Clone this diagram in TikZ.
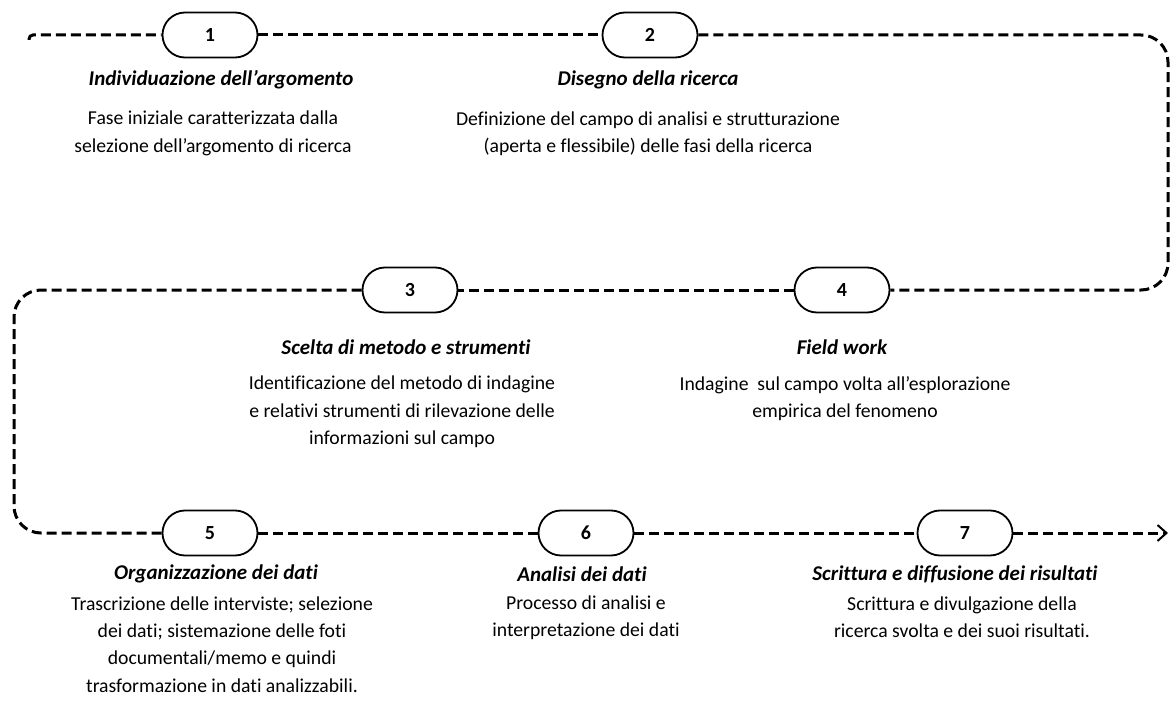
\documentclass[tikz,border=0pt]{standalone}
\usepackage{fontspec}
\setmainfont{Carlito}[Ligatures=NoCommon]
\usetikzlibrary{arrows.meta}

\tikzset{
  stadium/.style={draw, line width=1.8pt, fill=white, rounded corners=22.5pt,
    minimum width=95pt, minimum height=45pt, inner sep=0pt,
    font=\bfseries\fontsize{20}{20}\selectfont},
  flow/.style={line width=3pt, dash pattern=on 10pt off 5pt},
  stagetitle/.style={inner sep=0pt, font=\bfseries\itshape\fontsize{21}{24}\selectfont},
  stagetext/.style={inner sep=0pt, align=center, font=\fontsize{19.7}{27.3}\selectfont},
}

\begin{document}
\begin{tikzpicture}[x=1pt, y=-1pt]
\useasboundingbox (0,0) rectangle (1171,706);

% path corners and ends
\coordinate (start) at (29,40);
\coordinate (ne) at (1168,35);
\coordinate (e2) at (1168,290);
\coordinate (w2) at (14,290);
\coordinate (sw) at (14,533);
\coordinate (end) at (1168,533);

% stage markers
\node[stadium] (n1) at (210,35) {1};
\node[stadium] (n2) at (650,35) {2};
\node[stadium] (n3) at (410,290) {3};
\node[stadium] (n4) at (842,290) {4};
\node[stadium] (n5) at (210,533) {5};
\node[stadium] (n6) at (586,533) {6};
\node[stadium] (n7) at (965,533) {7};

% dashed route
\draw[flow, rounded corners=4pt] (start) |- (n1.west);
\draw[flow] (n1.east) -- (n2.west);
\draw[flow, rounded corners=27pt] (n2.east) -- (ne) -- (e2) -- (n4.east);
\draw[flow] (n4.west) -- (n3.east);
\draw[flow, rounded corners=27pt] (n3.west) -- (w2) -- (sw) -- (n5.west);
\draw[flow] (n5.east) -- (n6.west);
\draw[flow] (n6.east) -- (n7.west);
\draw[flow, -{Straight Barb[length=9pt, width=16pt, line width=2pt]}] (n7.east) -- (end);

% stage descriptions
\node[stagetitle] (t1) at (221,80) {Individuazione dell’argomento};
\node[stagetext] (b1) at (213,133.5) {Fase iniziale caratterizzata dalla\\selezione dell’argomento di ricerca};

\node[stagetitle] (t2) at (648,80) {Disegno della ricerca};
\node[stagetext] (b2) at (648,133.5) {Definizione del campo di analisi e strutturazione\\(aperta e flessibile) delle fasi della ricerca};

\node[stagetitle] (t3) at (406,347) {Scelta di metodo e strumenti};
\node[stagetext] (b3) at (402,412) {Identificazione del metodo di indagine\\e relativi strumenti di rilevazione delle\\informazioni sul campo};

\node[stagetitle] (t4) at (842,347) {Field work};
\node[stagetext] (b4) at (845,398.5) {Indagine\ \ sul campo volta all’esplorazione\\empirica del fenomeno};

\node[stagetitle] (t5) at (216,574) {Organizzazione dei dati};
\node[stagetext] (b5) at (222,644.5) {Trascrizione delle interviste; selezione\\dei dati; sistemazione delle foti\\documentali/memo e quindi\\trasformazione in dati analizzabili.};

\node[stagetitle] (t6) at (582,574) {Analisi dei dati};
\node[stagetext] (b6) at (586,617.5) {Processo di analisi e\\interpretazione dei dati};

\node[stagetitle] (t7) at (955,574) {Scrittura e diffusione dei risultati};
\node[stagetext] (b7) at (962,617.5) {Scrittura e divulgazione della\\ricerca svolta e dei suoi risultati.};
\end{tikzpicture}
\end{document}
